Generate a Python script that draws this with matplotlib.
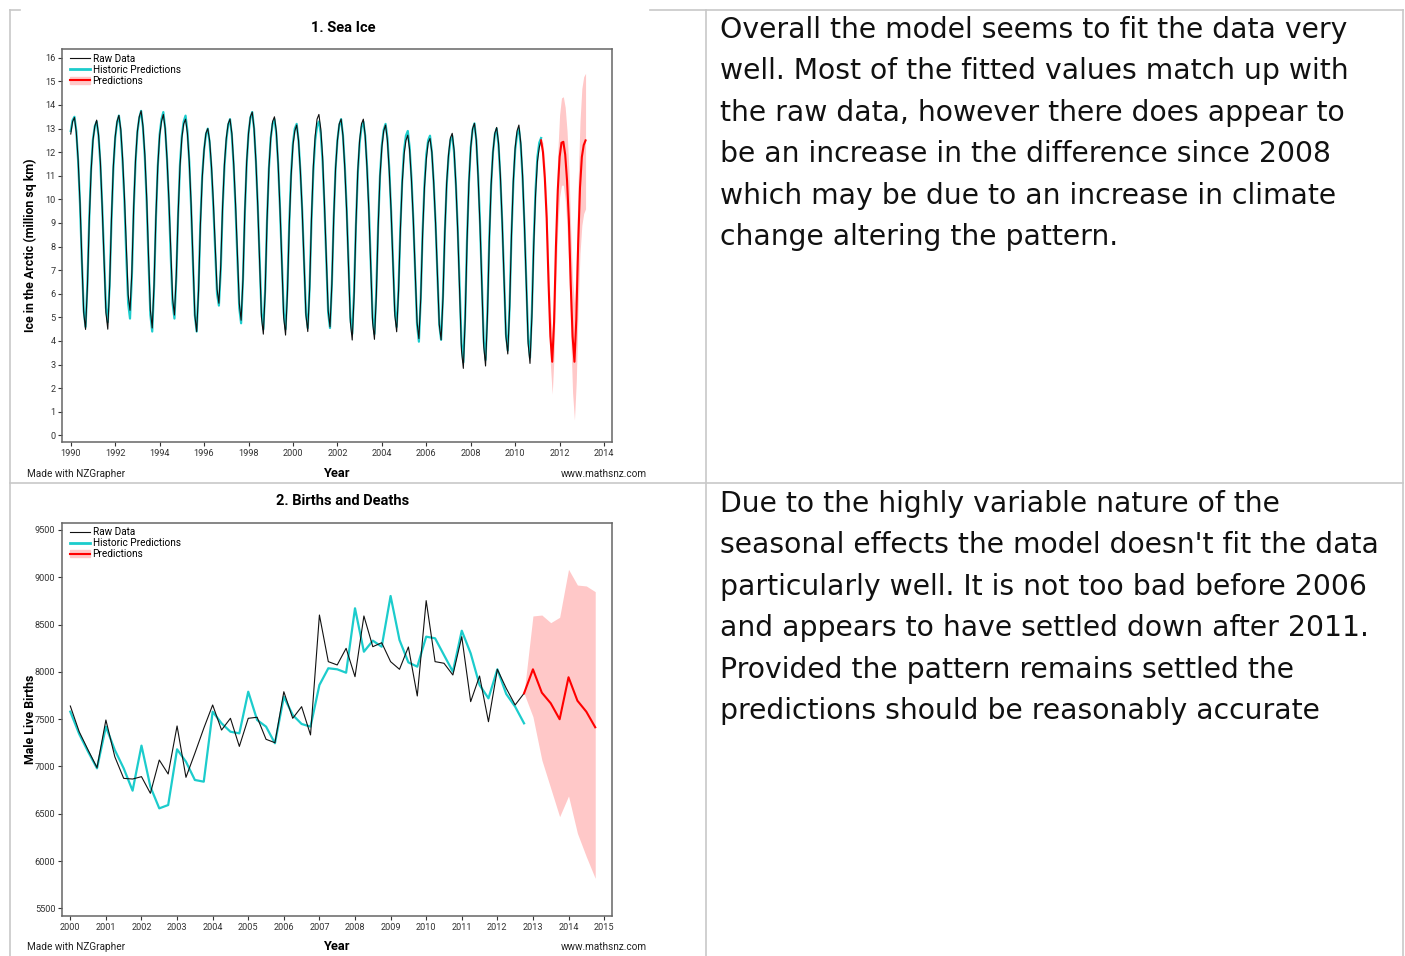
import numpy as np
import matplotlib
matplotlib.use("Agg")
import matplotlib.pyplot as plt
from matplotlib.lines import Line2D
from matplotlib.patches import Patch

W, H = 1405, 956

# ---- 1. Sea ice, monthly from Jan 1990 (million sq km) ----
ice_start = 1990
ice_raw = [
    12.77, 13.30, 13.47, 12.84, 11.67, 9.88, 7.45, 5.20, 4.49, 6.30, 9.10, 11.20,
    12.50, 13.10, 13.36, 12.74, 11.59, 9.64, 7.42, 5.20, 4.50, 6.30, 9.20, 11.40,
    12.65, 13.30, 13.56, 12.98, 11.74, 10.10, 8.00, 5.96, 5.30, 6.90, 9.70, 11.70,
    12.90, 13.50, 13.75, 13.10, 11.90, 10.10, 7.60, 5.30, 4.55, 6.40, 9.30, 11.40,
    12.70, 13.30, 13.60, 13.00, 11.70, 10.00, 7.90, 5.80, 5.10, 6.80, 9.40, 11.40,
    12.60, 13.20, 13.40, 12.80, 11.60, 9.80, 7.40, 5.10, 4.40, 6.10, 8.90, 10.90,
    12.10, 12.80, 13.00, 12.50, 11.40, 9.90, 8.00, 6.20, 5.60, 7.20, 9.70, 11.50,
    12.60, 13.20, 13.40, 12.80, 11.50, 9.80, 7.70, 5.60, 4.88, 6.60, 9.50, 11.60,
    12.80, 13.50, 13.70, 13.00, 11.60, 9.70, 7.40, 5.00, 4.29, 6.10, 9.10, 11.30,
    12.60, 13.30, 13.50, 12.90, 11.50, 9.60, 7.30, 5.00, 4.25, 6.00, 8.90, 11.00,
    12.30, 12.90, 13.15, 12.50, 11.20, 9.50, 7.30, 5.10, 4.40, 6.20, 9.20, 11.40,
    12.70, 13.40, 13.60, 13.00, 11.80, 9.80, 7.60, 5.30, 4.60, 6.40, 9.20, 11.30,
    12.50, 13.20, 13.40, 12.70, 11.30, 9.50, 7.10, 4.80, 4.04, 5.90, 8.90, 11.20,
    12.50, 13.20, 13.40, 12.70, 11.30, 9.50, 7.20, 4.80, 4.07, 5.90, 8.80, 11.00,
    12.20, 12.90, 13.15, 12.50, 11.20, 9.50, 7.30, 5.10, 4.39, 6.10, 8.70, 10.70,
    11.90, 12.50, 12.72, 12.10, 10.80, 9.10, 7.00, 4.80, 4.10, 5.80, 8.50, 10.50,
    11.70, 12.40, 12.58, 12.00, 10.70, 9.00, 6.90, 4.70, 4.05, 5.80, 8.60, 10.70,
    11.90, 12.60, 12.80, 12.10, 10.60, 8.60, 6.10, 3.60, 2.84, 4.90, 8.20, 10.70,
    12.20, 13.00, 13.22, 12.50, 10.90, 8.90, 6.30, 3.80, 2.94, 5.00, 8.20, 10.60,
    12.00, 12.80, 13.05, 12.40, 11.00, 9.00, 6.60, 4.20, 3.45, 5.40, 8.50, 10.80,
    12.20, 12.90, 13.15, 12.40, 11.00, 8.90, 6.40, 3.90, 3.05, 5.00, 8.00, 10.20,
    11.60, 12.20, 12.50,
]
ice_hist = [
    12.90, 13.35, 13.50, 12.90, 11.60, 9.80, 7.40, 5.30, 4.60, 6.40, 9.20, 11.30,
    12.55, 13.10, 13.30, 12.70, 11.50, 9.70, 7.50, 5.40, 4.80, 6.40, 9.10, 11.30,
    12.60, 13.25, 13.55, 12.90, 11.60, 9.90, 7.60, 5.60, 4.95, 6.70, 9.60, 11.60,
    12.85, 13.45, 13.75, 13.05, 11.80, 9.90, 7.40, 5.10, 4.40, 6.30, 9.20, 11.40,
    12.75, 13.40, 13.70, 13.00, 11.70, 9.90, 7.60, 5.60, 4.95, 6.70, 9.40, 11.50,
    12.70, 13.30, 13.55, 12.90, 11.60, 9.70, 7.30, 5.10, 4.40, 6.20, 9.00, 11.00,
    12.10, 12.75, 13.00, 12.40, 11.30, 9.70, 7.80, 6.00, 5.50, 7.00, 9.60, 11.40,
    12.50, 13.15, 13.40, 12.70, 11.40, 9.60, 7.50, 5.40, 4.75, 6.60, 9.40, 11.50,
    12.80, 13.45, 13.70, 13.00, 11.60, 9.70, 7.50, 5.20, 4.50, 6.20, 9.10, 11.30,
    12.60, 13.20, 13.40, 12.80, 11.50, 9.60, 7.40, 5.20, 4.50, 6.20, 9.00, 11.10,
    12.40, 13.00, 13.20, 12.50, 11.20, 9.50, 7.30, 5.20, 4.55, 6.30, 9.10, 11.20,
    12.50, 13.10, 13.30, 12.80, 11.60, 9.70, 7.50, 5.20, 4.55, 6.40, 9.20, 11.30,
    12.50, 13.15, 13.40, 12.70, 11.40, 9.60, 7.30, 5.00, 4.30, 6.10, 8.90, 11.10,
    12.40, 13.05, 13.30, 12.70, 11.40, 9.60, 7.30, 5.00, 4.30, 6.10, 8.90, 11.00,
    12.30, 12.95, 13.20, 12.60, 11.30, 9.50, 7.40, 5.30, 4.60, 6.20, 8.80, 10.80,
    12.10, 12.70, 12.90, 12.20, 10.90, 9.10, 6.90, 4.70, 3.97, 5.80, 8.60, 10.60,
    11.90, 12.50, 12.70, 12.00, 10.70, 9.00, 6.90, 4.70, 4.05, 5.90, 8.60, 10.60,
    11.80, 12.50, 12.70, 12.00, 10.60, 8.70, 6.30, 3.90, 3.10, 5.10, 8.30, 10.70,
    12.20, 12.95, 13.22, 12.50, 11.00, 9.00, 6.50, 4.00, 3.20, 5.20, 8.30, 10.60,
    12.00, 12.75, 13.00, 12.30, 10.90, 9.00, 6.70, 4.30, 3.60, 5.50, 8.50, 10.70,
    12.10, 12.75, 13.00, 12.30, 10.90, 8.90, 6.50, 4.10, 3.30, 5.20, 8.20, 10.40,
    11.80, 12.40, 12.60,
]
# predictions Mar 2011 - Mar 2013
ice_pred_start = 2011 + 2 / 12
ice_pred = [12.50, 12.00, 10.90, 9.20, 6.50, 4.20, 3.12, 4.80, 8.00, 10.40, 11.80, 12.40,
            12.44, 11.90, 10.80, 9.10, 6.40, 4.20, 3.12, 4.90, 8.10, 10.50, 11.80, 12.30, 12.50]
ice_lo = [12.50, 11.60, 10.30, 8.40, 5.50, 3.00, 1.75, 3.40, 6.50, 8.80, 10.10, 10.60,
          10.60, 10.00, 8.80, 7.00, 4.20, 1.80, 0.65, 2.30, 5.40, 7.70, 8.90, 9.40, 9.60]
ice_hi = [12.50, 12.40, 11.50, 10.00, 7.50, 5.30, 4.30, 6.10, 9.50, 12.00, 13.60, 14.30,
          14.35, 13.90, 12.90, 11.30, 8.70, 6.60, 5.60, 7.50, 10.80, 13.30, 14.70, 15.20, 15.34]

# ---- 2. Births, quarterly from 2000 ----
birth_start = 2000
birth_raw = [7639, 7367, 7174, 6987, 7491, 7103, 6874, 6867, 6892, 6716, 7068, 6920,
             7428, 6885, 7139, 7403, 7650, 7385, 7509, 7212, 7509, 7520, 7287, 7251,
             7790, 7509, 7632, 7333, 8601, 8108, 8073, 8249, 7949, 8591, 8266, 8308,
             8108, 8027, 8263, 7745, 8753, 8108, 8091, 7967, 8372, 7685, 7956, 7473,
             8027, 7826, 7650, 7773]
birth_hist = [7579, 7343, 7156, 6980, 7421, 7174, 6980, 6744, 7220, 6786, 6557, 6592,
              7181, 7050, 6857, 6839, 7579, 7456, 7367, 7350, 7790, 7491, 7421, 7245,
              7737, 7544, 7449, 7421, 7861, 8038, 8027, 7991, 8672, 8213, 8330, 8266,
              8802, 8337, 8100, 8055, 8372, 8355, 8178, 8002, 8435, 8196, 7861, 7720,
              8027, 7766, 7632, 7456]
birth_pred_start = 2012.75
birth_pred = [7773, 8027, 7780, 7668, 7499, 7943, 7695, 7579, 7414]
birth_lo = [7773, 7526, 7068, 6769, 6469, 6688, 6293, 6046, 5817]
birth_hi = [7773, 8591, 8601, 8520, 8577, 9084, 8918, 8908, 8848]

# ---- text column ----
text_top = ["Overall the model seems to fit the data very",
            "well. Most of the fitted values match up with",
            "the raw data, however there does appear to",
            "be an increase in the difference since 2008",
            "which may be due to an increase in climate",
            "change altering the pattern."]
text_bottom = ["Due to the highly variable nature of the",
               "seasonal effects the model doesn't fit the data",
               "particularly well. It is not too bad before 2006",
               "and appears to have settled down after 2011.",
               "Provided the pattern remains settled the",
               "predictions should be reasonably accurate"]

RAW_C, HIST_C, PRED_C, BAND_C = "#111111", "#1ccccc", "#ff0000", "#ffc8c8"

plt.rcParams["font.family"] = ["Roboto", "DejaVu Sans"]
fig = plt.figure(figsize=(W / 100, H / 100), dpi=100)


def fx(x):
    return x / W


def fy(y):
    return 1 - y / H


def panel(rect_px, title, ylabel, yoff, raw, hist, pred, lo, hi, x_raw, x_pred,
          xlim, ylim, xticks, yticks):
    l, t, r, b = rect_px
    ax = fig.add_axes([fx(l), fy(b), (r - l) / W, (b - t) / H])
    ax.plot(x_raw[:len(hist)], hist, color=HIST_C, lw=1.6, zorder=2)
    ax.plot(x_raw, raw, color=RAW_C, lw=0.8, zorder=3)
    ax.fill_between(x_pred, lo, hi, color=BAND_C, lw=0, zorder=1)
    ax.plot(x_pred, pred, color=PRED_C, lw=1.5, zorder=4)
    ax.set_xlim(*xlim)
    ax.set_ylim(*ylim)
    ax.set_xticks(xticks)
    ax.set_yticks(yticks)
    ax.tick_params(labelsize=6.6, length=3, width=0.8, colors="#333333", pad=2)
    for s in ax.spines.values():
        s.set_color("#666666")
        s.set_linewidth(1.1)
    handles = [Line2D([], [], color=RAW_C, lw=0.8),
               Line2D([], [], color=HIST_C, lw=2),
               (Patch(color=BAND_C), Line2D([], [], color=PRED_C, lw=1.5))]
    ax.legend(handles, ["Raw Data", "Historic Predictions", "Predictions"],
              loc="upper left", bbox_to_anchor=(0.005, 1.0), frameon=False,
              fontsize=7.2, handlelength=2.0, handletextpad=0.3, labelspacing=0.1,
              borderaxespad=0.25, borderpad=0.2)
    fig.text(fx(343), fy(yoff + 18), title, ha="center", va="center",
             fontsize=10.5, fontweight="bold")
    fig.text(fx(336), fy(yoff + 463), "Year", ha="center", va="center",
             fontsize=9.3, fontweight="bold")
    fig.text(fx(27), fy(yoff + 464), "Made with NZGrapher", ha="left", va="center",
             fontsize=7.2, color="#222222")
    fig.text(fx(647), fy(yoff + 464), "www.mathsnz.com", ha="right", va="center",
             fontsize=7.2, color="#222222")
    fig.text(fx(30), fy((t + b) / 2), ylabel, ha="center", va="center",
             rotation=90, fontsize=8.9, fontweight="bold")
    return ax


x_ice = ice_start + np.arange(len(ice_raw)) / 12
x_ice_pred = ice_pred_start + np.arange(len(ice_pred)) / 12
panel((62.3, 49.3, 612.3, 442), "1. Sea Ice", "Ice in the Arctic (million sq km)", 10,
      ice_raw, ice_hist, ice_pred, ice_lo, ice_hi, x_ice, x_ice_pred,
      (1989.62, 2014.37), (-0.28, 16.36), range(1990, 2015, 2), range(0, 17))

x_birth = birth_start + np.arange(len(birth_raw)) / 4
x_birth_pred = birth_pred_start + np.arange(len(birth_pred)) / 4
panel((62.3, 522.7, 612.3, 915.7), "2. Births and Deaths", "Male Live Births", 483,
      birth_raw, birth_hist, birth_pred, birth_lo, birth_hi, x_birth, x_birth_pred,
      (1999.775, 2015.23), (5422, 9577), range(2000, 2016), range(5500, 9501, 500))

# table grid
grid_c = "#c8c8c8"
for xs, ys in [([10, 20], [10, 10]), ([650, 1403], [10, 10]), ([10, 1403], [483, 483]),
               ([10, 10], [10, 956]), ([706, 706], [10, 956]), ([1403, 1403], [10, 956])]:
    fig.add_artist(Line2D([fx(v) for v in xs], [fy(v) for v in ys], color=grid_c, lw=1.2))

for i, line in enumerate(text_top):
    fig.text(fx(720), fy(30 + i * 41.4), line, ha="left", va="center",
             fontsize=20.3, family="DejaVu Sans", color="#111111")
for i, line in enumerate(text_bottom):
    fig.text(fx(720), fy(504 + i * 41.4), line, ha="left", va="center",
             fontsize=20.3, family="DejaVu Sans", color="#111111")

fig.savefig("out.png", dpi=100, facecolor="white")
